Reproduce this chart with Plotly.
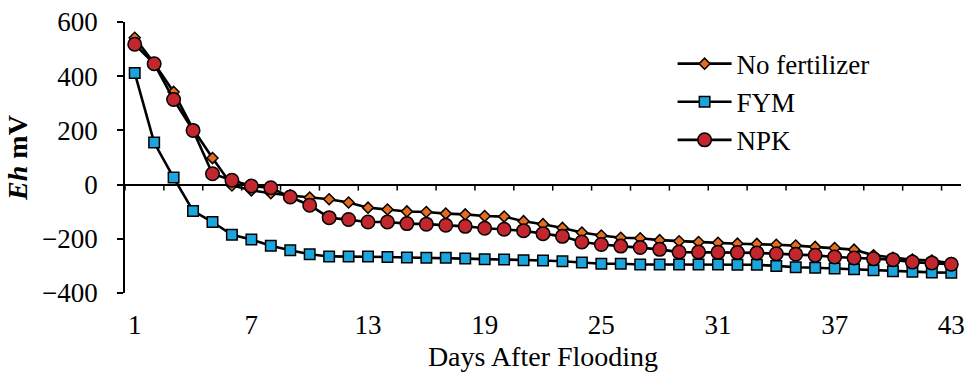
import numpy as np
import plotly.graph_objects as go

days = list(range(1, 44))
no_fertilizer = [542, 448, 342, 205, 98, -3, -21, -32, -40, -48, -54, -66, -85, -92, -99, -101, -107, -110,
                 -116, -118, -135, -146, -160, -177, -188, -196, -198, -205, -209, -212, -215, -218, -219,
                 -222, -225, -230, -234, -240, -261, -270, -277, -280, -290]
fym = [412, 155, 26, -97, -138, -185, -203, -226, -242, -257, -265, -265, -265, -267, -269, -270, -270,
       -273, -275, -276, -279, -280, -283, -287, -292, -292, -295, -295, -295, -295, -295, -296, -296,
       -300, -305, -307, -310, -312, -316, -320, -322, -324, -325]
npk = [518, 446, 314, 200, 40, 16, -5, -12, -46, -76, -122, -129, -138, -138, -144, -146, -150, -154,
       -161, -165, -170, -181, -191, -212, -221, -227, -232, -239, -249, -249, -250, -251, -252, -255,
       -257, -261, -267, -271, -274, -277, -286, -289, -294]
x_tickvals = [1, 7, 13, 19, 25, 31, 37, 43]
y_tickvals = [-400, -200, 0, 200, 400, 600]

FONT = "Liberation Serif"

fig = go.Figure()
series = [
    ("No fertilizer", no_fertilizer, "diamond", "#E46C1E", 8.5),
    ("FYM", fym, "square", "#1BA5DC", 10.5),
    ("NPK", npk, "circle", "#C1272D", 13.5),
]
for name, vals, sym, col, sz in series:
    fig.add_trace(go.Scatter(
        x=days, y=vals, name=name, mode="lines+markers",
        line=dict(color="black", width=2.6),
        marker=dict(symbol=sym, size=sz, color=col, line=dict(color="black", width=1.5)),
    ))

shapes = []
for t in np.arange(0.5, 44, 2):
    shapes.append(dict(type="line", xref="x", yref="y", ysizemode="pixel", yanchor=0,
                       x0=t, x1=t, y0=0, y1=-6, line=dict(color="black", width=1.5)))

fig.update_layout(
    width=967, height=383,
    margin=dict(l=125, r=2, t=22, b=90),
    plot_bgcolor="white", paper_bgcolor="white",
    font=dict(family=FONT, size=27, color="black"),
    showlegend=True,
    legend=dict(x=0.655, y=0.935, xanchor="left", yanchor="top", itemwidth=54,
                font=dict(family=FONT, size=27), bgcolor="rgba(0,0,0,0)", tracegroupgap=0),
    shapes=shapes,
    xaxis=dict(range=[0.5, 43.5], tickvals=x_tickvals, showline=False, showgrid=False,
               zeroline=False, ticks="", ticklabelstandoff=13, ticklabeloverflow="allow",
               tickfont=dict(family=FONT, size=27),
               title=dict(text="Days After Flooding", standoff=7, font=dict(family=FONT, size=28))),
    yaxis=dict(range=[-400, 600], tickvals=y_tickvals, showline=True, linecolor="black", linewidth=1.5,
               ticks="outside", ticklen=6, tickwidth=1.5, tickcolor="black", showgrid=False,
               zeroline=True, zerolinecolor="black", zerolinewidth=1.5, ticklabelstandoff=14,
               tickfont=dict(family=FONT, size=27),
               title=dict(text="<b><i>Eh</i> mV</b>", standoff=6, font=dict(family=FONT, size=28))),
)

fig.write_html("out.html")
